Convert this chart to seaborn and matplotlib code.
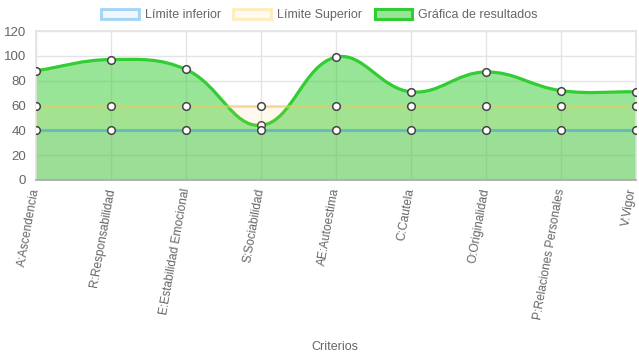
import numpy as np
import pandas as pd
import matplotlib.pyplot as plt
import matplotlib.transforms as mtransforms
import seaborn as sns
from matplotlib.path import Path
from matplotlib.patches import PathPatch, Patch

criterios = ['A:Ascendencia', 'R:Responsabilidad', 'E:Estabilidad Emocional', 'S:Sociabilidad',
             'AE:Autoestima', 'C:Cautela', 'O:Originalidad', 'P:Relaciones Personales', 'V:Vigor']
resultados = [88, 97, 89, 44, 99, 71, 87, 72, 71]
limite_inferior = [40, 40, 40, 40, 40, 40, 40, 40, 40]
limite_superior = [60, 60, 60, 60, 60, 60, 60, 60, 60]
y_ticks = [0, 20, 40, 60, 80, 100, 120]

df = pd.DataFrame({'criterio': criterios, 'pos': range(len(criterios)),
                   'resultados': resultados, 'inferior': limite_inferior,
                   'superior': limite_superior})

sns.set_theme(style='white')
plt.rcParams['font.family'] = ['Liberation Sans', 'DejaVu Sans']

GREEN = (50/255, 205/255, 50/255)
BLUE = (54/255, 162/255, 235/255)
YELLOW = (255/255, 205/255, 86/255)
GRID = '#e4e4e4'
TXT = '#666666'


def spline_path(xs, ys, sx, sy, t=0.4):
    # chart.js style bezier smoothing, computed in pixel space
    px = np.asarray(xs, float) * sx
    py = np.asarray(ys, float) * sy
    n = len(px)
    cps = []
    for i in range(n):
        p = max(i - 1, 0)
        q = min(i + 1, n - 1)
        d01 = np.hypot(px[i] - px[p], py[i] - py[p])
        d12 = np.hypot(px[q] - px[i], py[q] - py[i])
        tot = d01 + d12
        fa = t * d01 / tot if tot else 0
        fb = t * d12 / tot if tot else 0
        c1 = (px[i] - fa * (px[q] - px[p]), py[i] - fa * (py[q] - py[p]))
        c2 = (px[i] + fb * (px[q] - px[p]), py[i] + fb * (py[q] - py[p]))
        cps.append((c1, c2))
    verts = [(px[0] / sx, py[0] / sy)]
    codes = [Path.MOVETO]
    for i in range(n - 1):
        verts += [(cps[i][1][0] / sx, cps[i][1][1] / sy),
                  (cps[i + 1][0][0] / sx, cps[i + 1][0][1] / sy),
                  (px[i + 1] / sx, py[i + 1] / sy)]
        codes += [Path.CURVE4] * 3
    return verts, codes


fig = plt.figure(figsize=(6.39, 3.6), dpi=100)
ax = fig.add_axes([36/639, 1 - 180/360, 600/639, 149/360])

# results curve (drawn first, sits underneath)
verts, codes = spline_path(df['pos'], df['resultados'], 75, 149/120)
n = len(criterios)
fill_verts = verts + [(n - 1, 0), (0, 0), verts[0]]
fill_codes = codes + [Path.LINETO, Path.LINETO, Path.CLOSEPOLY]
ax.add_patch(PathPatch(Path(fill_verts, fill_codes), facecolor=GREEN + (0.5,),
                       edgecolor='none', zorder=1))
ax.add_patch(PathPatch(Path(verts, codes), facecolor='none', edgecolor=GREEN,
                       lw=2.3, zorder=2, capstyle='round'))
sns.scatterplot(data=df, x='pos', y='resultados', s=30, color='white',
                edgecolor='#444444', linewidth=1.1, zorder=3, ax=ax)

# limits
ax.fill_between(df['pos'], 0, df['superior'], color=YELLOW + (0.1,), lw=0, zorder=4)
sns.lineplot(data=df, x='pos', y='superior', color=YELLOW + (0.5,), lw=2.2, zorder=5, ax=ax)
ax.fill_between(df['pos'], 0, df['inferior'], color=BLUE + (0.06,), lw=0, zorder=6)
sns.lineplot(data=df, x='pos', y='inferior', color=BLUE + (0.5,), lw=2.2, zorder=7, ax=ax)
sns.scatterplot(data=df, x='pos', y='superior', s=30, color='white',
                edgecolor='#444444', linewidth=1.1, zorder=8, ax=ax)
sns.scatterplot(data=df, x='pos', y='inferior', s=30, color='white',
                edgecolor='#444444', linewidth=1.1, zorder=9, ax=ax)

ax.set_xlim(0, n - 1)
ax.set_ylim(0, 120)
ax.set_yticks(y_ticks)
ax.set_yticklabels([str(v) for v in y_ticks], color=TXT, fontsize=9.5)
ax.set_xticks(range(n))
ax.set_xticklabels(criterios, rotation=80, ha='right', va='center',
                   rotation_mode='anchor', color=TXT, fontsize=8.6)
ax.tick_params(axis='both', length=5, color=GRID, width=1, pad=2)
ax.tick_params(axis='x', pad=1)
ax.grid(True, color=GRID, lw=1, zorder=0)
ax.set_axisbelow(True)
for side in ['top', 'right', 'left']:
    ax.spines[side].set_color(GRID)
ax.spines['bottom'].set_color('#aaaaaa')
ax.set_xlabel('')
ax.set_ylabel('')

# keep the last label inside the canvas
last = ax.get_xticklabels()[-1]
last.set_transform(last.get_transform() + mtransforms.ScaledTranslation(-3/100, 0, fig.dpi_scale_trans))

fig.text(335/639, 1 - 347/360, 'Criterios', ha='center', va='center', color=TXT, fontsize=9)

handles = [
    Patch(facecolor=BLUE + (0.07,), edgecolor=BLUE + (0.42,), lw=2.2, label='Límite inferior'),
    Patch(facecolor=YELLOW + (0.08,), edgecolor=YELLOW + (0.35,), lw=2.2, label='Límite Superior'),
    Patch(facecolor=GREEN + (0.5,), edgecolor=GREEN, lw=2.2, label='Gráfica de resultados'),
]
leg = fig.legend(handles=handles, loc='center', bbox_to_anchor=(0.5, 1 - 15/360), ncol=3,
                 frameon=False, fontsize=9, handlelength=3.0, handleheight=0.9,
                 handletextpad=0.5, columnspacing=1.0)
for t in leg.get_texts():
    t.set_color(TXT)

fig.savefig('out.png', dpi=100)
